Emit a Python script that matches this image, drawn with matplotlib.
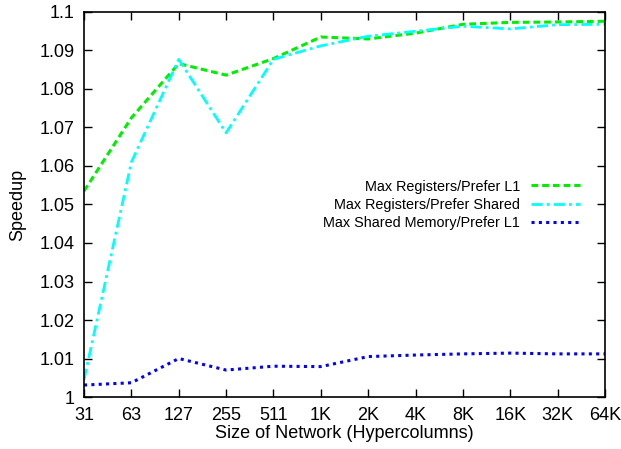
import matplotlib
matplotlib.use("Agg")
import matplotlib.pyplot as plt
from matplotlib.ticker import FixedLocator, FuncFormatter

plt.rcParams['font.family'] = ['Liberation Sans', 'DejaVu Sans']

sizes = ["31", "63", "127", "255", "511", "1K", "2K", "4K", "8K", "16K", "32K", "64K"]
regs_l1 = [1.0535, 1.0725, 1.0866, 1.0836, 1.0879, 1.0935, 1.0930, 1.0945, 1.0968, 1.0973, 1.0974, 1.0976]
regs_shared = [1.0045, 1.0610, 1.0877, 1.0686, 1.0877, 1.0912, 1.0937, 1.0950, 1.0963, 1.0956, 1.0967, 1.0968]
shmem_l1 = [1.0031, 1.0037, 1.0100, 1.0070, 1.0080, 1.0079, 1.0105, 1.0109, 1.0112, 1.0114, 1.0112, 1.0112]

fig = plt.figure(figsize=(6.21, 4.49), dpi=100)
ax = fig.add_axes([0.1353, 0.1158, 0.8389, 0.8575])

x = list(range(len(sizes)))
ax.plot(x, regs_l1, color='#00ee00', lw=2.2, dashes=(2.2, 1.3), label='Max Registers/Prefer L1')
ax.plot(x, regs_shared, color='#00ffff', lw=2.0, dashes=(4, 1.5, 1, 1.5), label='Max Registers/Prefer Shared')
ax.plot(x, shmem_l1, color='#0000ff', lw=2.2, dashes=(1.0, 1.4), label='Max Shared Memory/Prefer L1')

ax.set_xlim(0, len(sizes) - 1)
ax.set_ylim(1.0, 1.1)
ax.set_xticks(x)
ax.set_xticklabels(sizes)
ax.yaxis.set_major_locator(FixedLocator([1.0 + 0.01 * i for i in range(11)]))
ax.yaxis.set_major_formatter(FuncFormatter(lambda v, p: f"{v:.2f}".rstrip('0').rstrip('.')))
ax.tick_params(direction='in', length=6, width=1, top=True, right=True, labelsize=13, pad=7)
for s in ax.spines.values():
    s.set_linewidth(1.2)

ax.set_xlabel('Size of Network (Hypercolumns)', fontsize=13, labelpad=1)
ax.set_ylabel('Speedup', fontsize=13, labelpad=9)

leg = ax.legend(loc='center right', bbox_to_anchor=(0.966, 0.499), frameon=False,
                fontsize=10.4, markerfirst=False, handlelength=3.4, handletextpad=0.76,
                labelspacing=0.3, borderpad=0)
for t in leg.get_texts():
    t.set_ha('right')

fig.savefig('out.png', dpi=100)
